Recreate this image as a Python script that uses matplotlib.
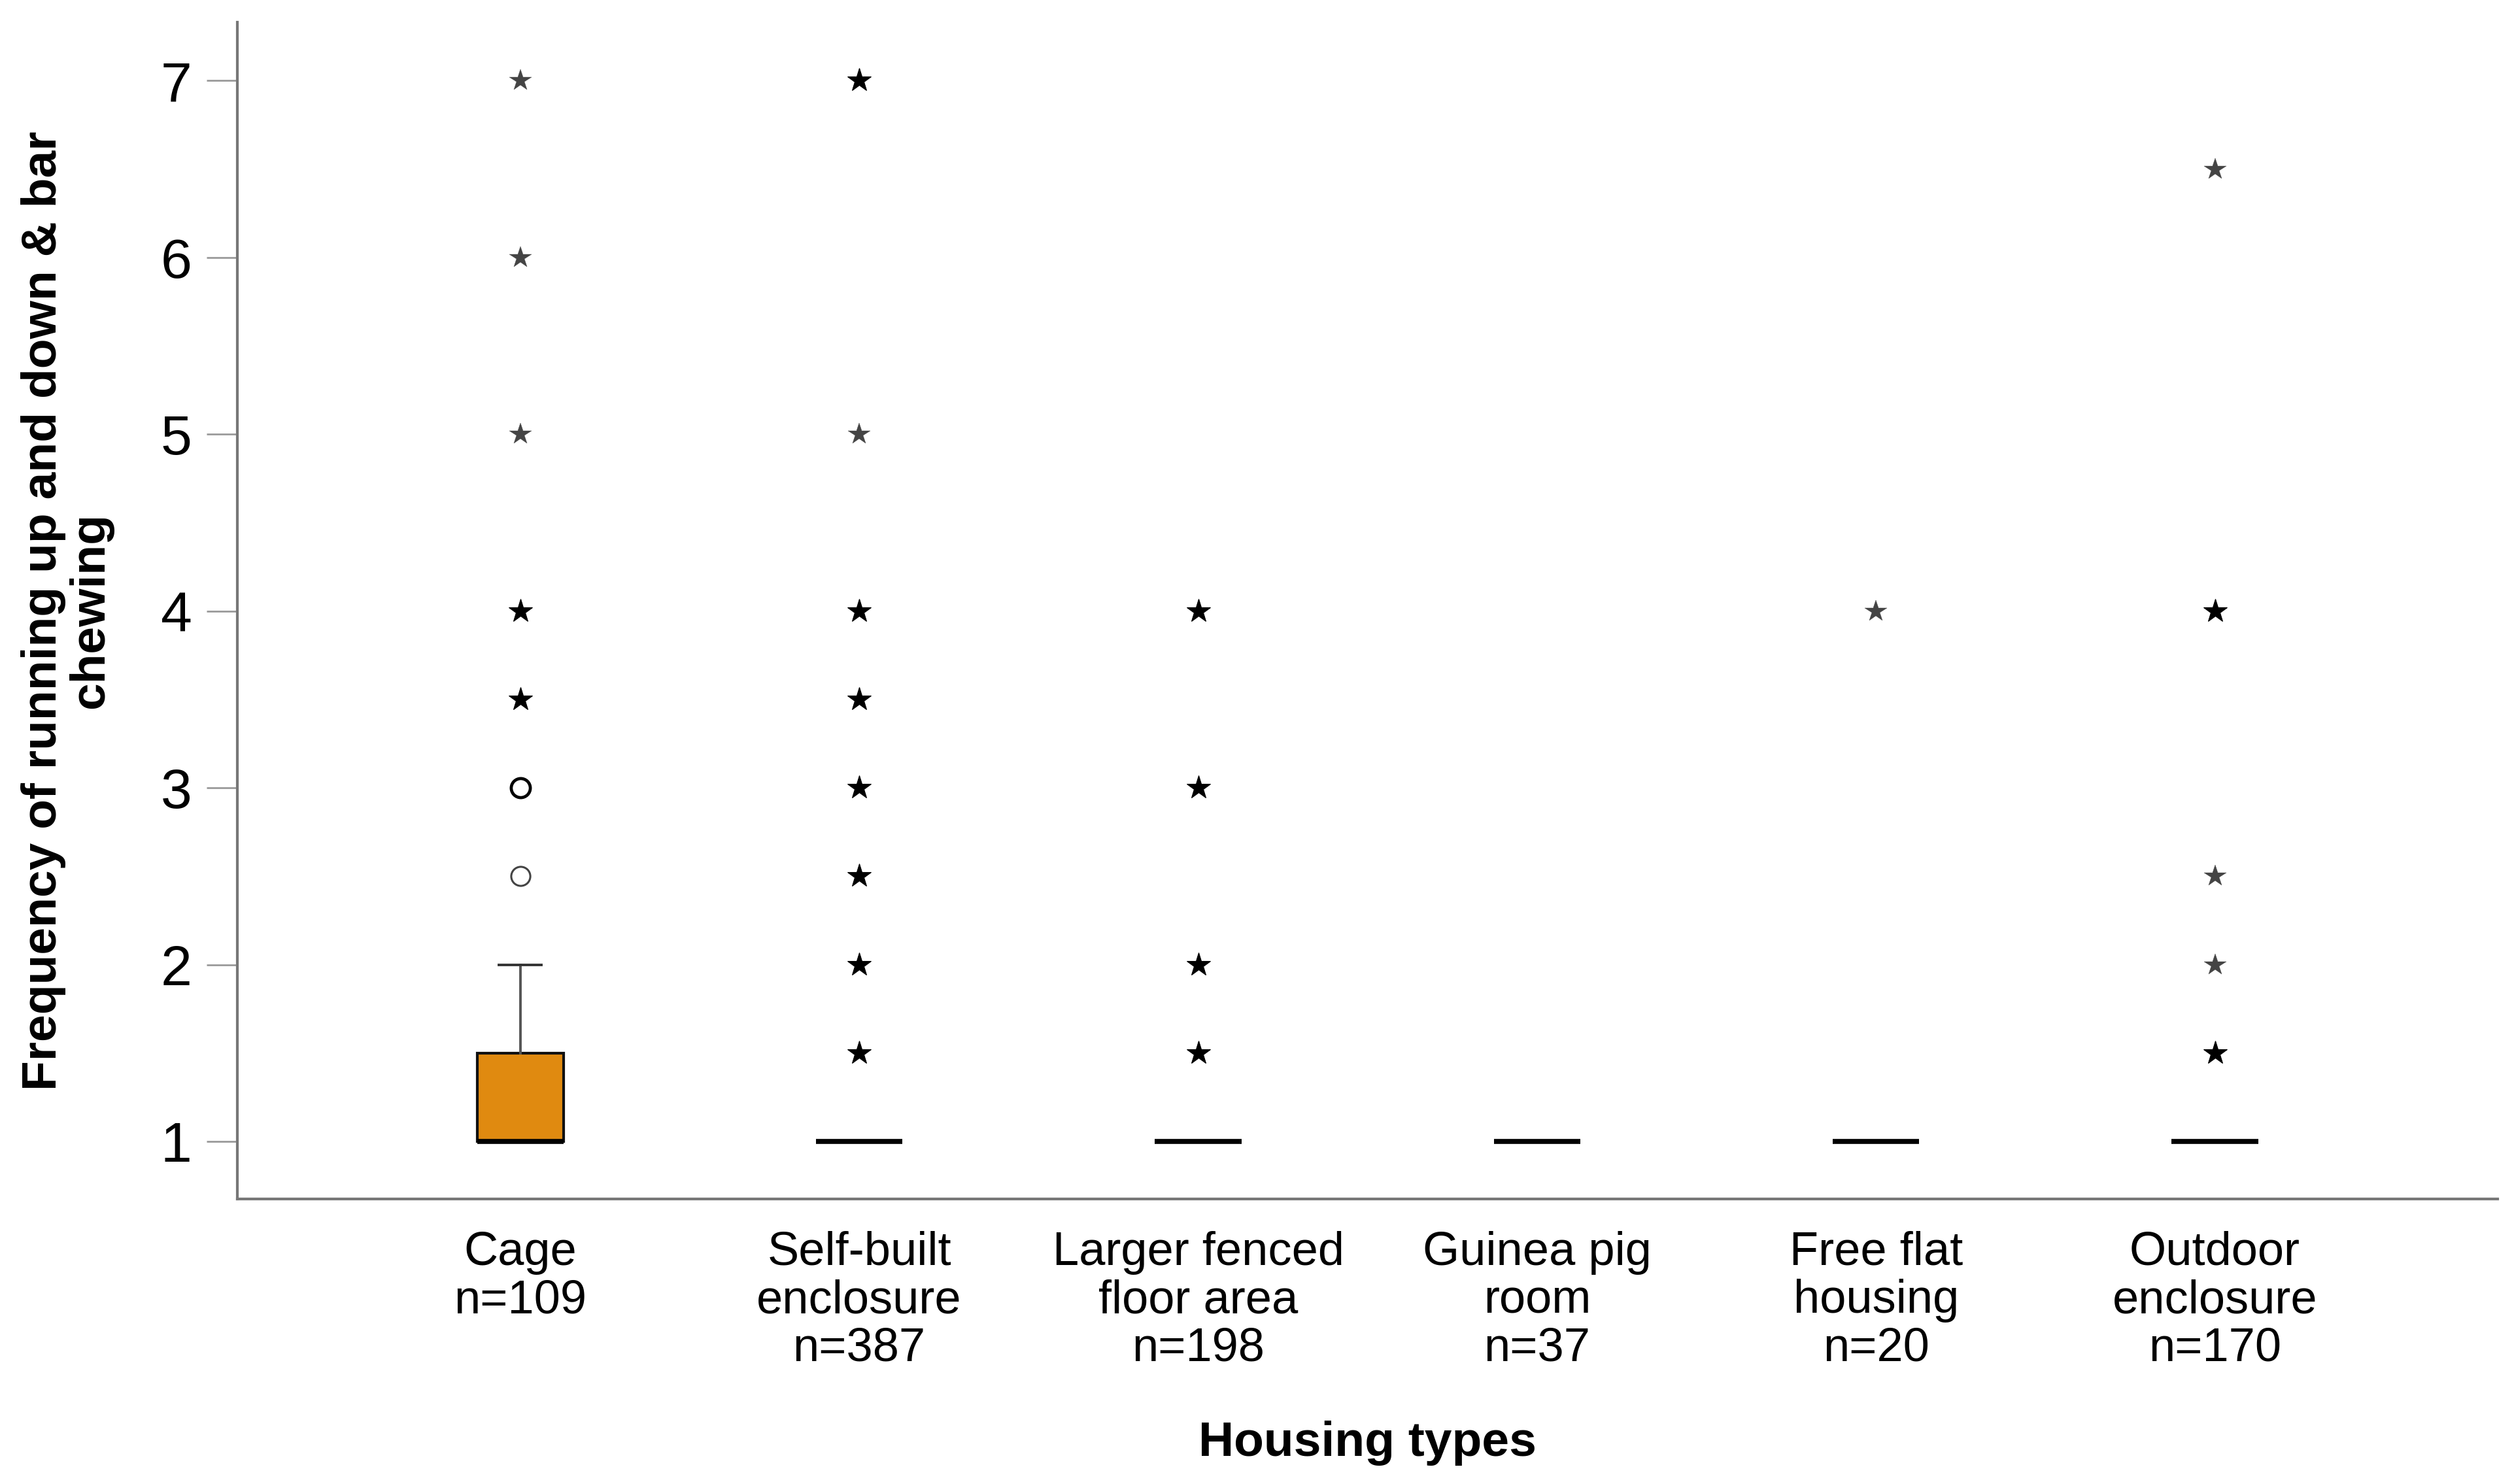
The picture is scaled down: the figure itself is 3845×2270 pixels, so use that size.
import numpy as np
import matplotlib
matplotlib.use('Agg')
import matplotlib.pyplot as plt

plt.rcParams['font.family'] = ['Liberation Sans', 'DejaVu Sans']

# Daten
kategorien = ['Cage', 'Self-built\nenclosure', 'Larger fenced\nfloor area', 'Guinea pig\nroom',
              'Free flat\nhousing', 'Outdoor\nenclosure']
n_werte = [109, 387, 198, 37, 20, 170]
q1 = [1, 1, 1, 1, 1, 1]
median = [1, 1, 1, 1, 1, 1]
q3 = [1.5, 1, 1, 1, 1, 1]
whisk_lo = [1, 1, 1, 1, 1, 1]
whisk_hi = [2, 1, 1, 1, 1, 1]

# Ausreisser (Kreis) und Extremwerte (Stern): Wert und Anzahl uebereinanderliegender Punkte
kreis_gruppe = [0, 0]
kreis_wert = [2.5, 3]
kreis_anzahl = [1, 3]

stern_gruppe = [0, 0, 0, 0, 0,
                1, 1, 1, 1, 1, 1, 1, 1,
                2, 2, 2, 2,
                4,
                5, 5, 5, 5, 5]
stern_wert = [3.5, 4, 5, 6, 7,
              1.5, 2, 2.5, 3, 3.5, 4, 5, 7,
              1.5, 2, 3, 4,
              4,
              1.5, 2, 2.5, 4, 6.5]
stern_anzahl = [3, 4, 1, 1, 1,
                6, 5, 2, 5, 2, 6, 1, 3,
                4, 3, 3, 3,
                1,
                3, 1, 1, 3, 1]

fig = plt.figure(figsize=(38.45, 22.7), dpi=100)
ax = fig.add_axes([0.0944, 0.192, 0.8992, 0.793])

stats = []
for i in range(len(kategorien)):
    stats.append(dict(med=median[i], q1=q1[i], q3=q3[i], whislo=whisk_lo[i], whishi=whisk_hi[i], fliers=[]))

pos = np.arange(len(kategorien))
ax.bxp(stats, positions=pos, widths=0.255, patch_artist=True, showfliers=False,
       boxprops=dict(facecolor='#E08A10', edgecolor='#111111', linewidth=3),
       medianprops=dict(color='black', linewidth=5.5, solid_capstyle='butt'),
       whiskerprops=dict(color='#555555', linewidth=2.8),
       capprops=dict(color='#333333', linewidth=2.8),
       capwidths=0.125)

# Kreise
for g, w, k in zip(kreis_gruppe, kreis_wert, kreis_anzahl):
    lw = 3.4 if k > 1 else 2.2
    col = 'black' if k > 1 else '#444444'
    ax.plot(pos[g], w, marker='o', markersize=21, markerfacecolor='none',
            markeredgecolor=col, markeredgewidth=lw, linestyle='none', zorder=5)

# Sterne
for g, w, k in zip(stern_gruppe, stern_wert, stern_anzahl):
    col = 'black' if k > 1 else '#444444'
    ms = 27 if k > 1 else 25
    ax.plot(pos[g], w, marker='*', markersize=ms, color=col,
            markeredgewidth=0.8 if k > 1 else 0.3, linestyle='none', zorder=5)

ax.set_xlim(-0.835, 5.835)
ax.set_ylim(0.674, 7.33)
ax.set_yticks([1, 2, 3, 4, 5, 6, 7])
ax.set_yticklabels(['1', '2', '3', '4', '5', '6', '7'], fontsize=62)
ax.set_xticks(pos)
ax.set_xticklabels([f'{k}\nn={n}' for k, n in zip(kategorien, n_werte)], fontsize=52, linespacing=1.12)

ax.tick_params(axis='x', length=0, pad=35)
ax.tick_params(axis='y', length=34, width=2, color='#9a9a9a', pad=16)

for s in ['top', 'right']:
    ax.spines[s].set_visible(False)
for s in ['left', 'bottom']:
    ax.spines[s].set_color('#777777')
    ax.spines[s].set_linewidth(3)

ax.set_ylabel('Frequency of running up and down & bar\nchewing', fontsize=54, fontweight='bold',
              linespacing=1.05)
ax.yaxis.set_label_coords(-0.055, 0.5)
ax.set_xlabel('Housing types', fontsize=54, fontweight='bold')
ax.xaxis.set_label_coords(0.5, -0.188)
ax.xaxis.label.set_va('top')

plt.savefig('out.png', dpi=100, facecolor='white')
